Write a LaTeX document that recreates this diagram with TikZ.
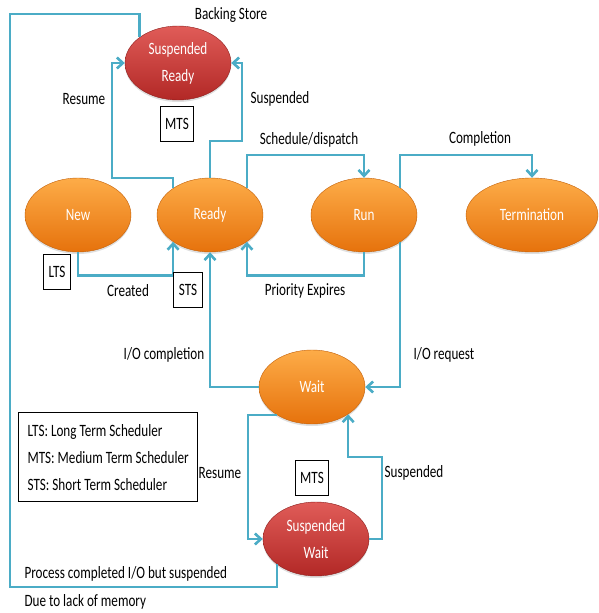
\documentclass[tikz,border=0pt]{standalone}
\usepackage{fontspec}
\setmainfont{Carlito}[FakeStretch=0.76]
\usetikzlibrary{arrows.meta,shapes.geometric,shadows}

\definecolor{flowblue}{RGB}{75,172,198}
\definecolor{orangetop}{RGB}{253,172,72}
\definecolor{orangebot}{RGB}{230,114,12}
\definecolor{redtop}{RGB}{224,92,88}
\definecolor{redbot}{RGB}{178,40,38}

\begin{document}
\begin{tikzpicture}[x=1pt,y=-1pt,
		every node/.style={font=\fontsize{17.3}{20}\selectfont},
		state/.style={ellipse, minimum width=106pt, minimum height=74pt, inner sep=0pt,
			text=white, top color=orangetop, bottom color=orangebot, draw=orangebot!85!black, thin,
			drop shadow={opacity=0.25, shadow xshift=0pt, shadow yshift=-2pt}},
		suspstate/.style={state, top color=redtop, bottom color=redbot, draw=redbot!80!black,
			align=center, font=\fontsize{17.3}{27}\selectfont},
		flow/.style={draw=flowblue, line width=2.6pt},
		tag/.style={draw, line width=1.3pt, minimum height=35pt, inner xsep=5pt},
		>={Straight Barb[length=6pt,width=11pt]}]
		\useasboundingbox (0,0) rectangle (598,613);
		
		% Tilstander
		\node[suspstate] (susr) at (178,63) {Suspended\\Ready};
		\node[state] (new) at (78,215) {New};
		\node[state] (ready) at (210,215) {Ready};
		\node[state] (run) at (364,215) {Run};
		\node[state, minimum width=132pt] (term) at (532,215) {Termination};
		\node[state] (wait) at (312,387) {Wait};
		\node[suspstate] (suspw) at (316,539) {Suspended\\Wait};
		
		% Knekkpunkter
		\coordinate (lowleft) at (10,587);
		\coordinate (upleft) at (10,14);
		\coordinate (resumetop) at (112,178);
		\coordinate (suspendtop) at (242,141);
		\coordinate (dispatch) at (364,155);
		\coordinate (finish) at (532,155);
		\coordinate (suspendlow) at (382,457);
		
		% Overganger
		\draw[flow] (suspw.213) |- (lowleft) -- (upleft) -| (susr.146);
		\draw[flow,->] (ready.144) |- (resumetop) |- (susr.west);
		\draw[flow,->] (ready.north) |- (suspendtop) |- (susr.east);
		\draw[flow,->] (ready.36) |- (dispatch) -- (run.north);
		\draw[flow,->] (run.37) |- (finish) -- (term.north);
		\draw[flow,->] (run.south) -- ++(0,23) -| (ready.-36);
		\draw[flow,->] (new.south) -- ++(0,23) -| (ready.-144);
		\draw[flow,->] (wait.west) -| (ready.south);
		\draw[flow,->] (run.-37) |- (wait.east);
		\draw[flow,->] (wait.219) -| ([xshift=-15pt]suspw.west) -- (suspw.west);
		\draw[flow,->] (suspw.east) -| (suspendlow) -| (wait.-37);
		
		% Planleggere
		\node[tag] (mtstop) at (177,124) {MTS};
		\node[tag] (lts) at (57,272) {LTS};
		\node[tag] (sts) at (188,290) {STS};
		\node[tag] (mtslow) at (312,478) {MTS};
		
		% Etiketter
		\node (store) at (231,15) {Backing Store};
		\node (resumeup) at (84,99) {Resume};
		\node (suspendup) at (280,99) {Suspended};
		\node (schedule) at (309,140) {Schedule/dispatch};
		\node (completion) at (480,139) {Completion};
		\node (created) at (128,291) {Created};
		\node (priority) at (305,291) {Priority Expires};
		\node (iodone) at (164,355) {I/O completion};
		\node (iorequest) at (444,355) {I/O request};
		\node (resumelow) at (220,473) {Resume};
		\node (suspendlowlbl) at (414,473) {Suspended};
		\node[anchor=west] (completedio) at (21,574) {Process completed I/O but suspended};
		\node[anchor=west] (memory) at (21,602) {Due to lack of memory};
		
		% Forklaring
		\node[draw, line width=1.3pt, anchor=north west, minimum width=179pt, minimum height=89pt,
		align=left, font=\fontsize{17.3}{27}\selectfont] (legend) at (18,412)
		{LTS: Long Term Scheduler\\MTS: Medium Term Scheduler\\STS: Short Term Scheduler};
	\end{tikzpicture}
\end{document}
